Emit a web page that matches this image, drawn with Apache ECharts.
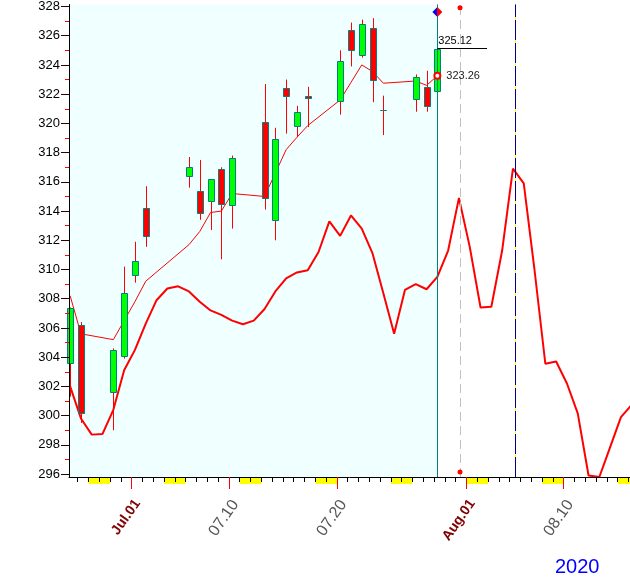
<!DOCTYPE html>
<html><head><meta charset="utf-8">
<script src="https://cdn.jsdelivr.net/npm/echarts@6/dist/echarts.min.js"></script>
<style>html,body{margin:0;padding:0;background:#fff}#c{width:630px;height:581px}</style>
</head><body><div id="c"></div>
<script>
// ---------- data ----------
const tradeDates = ['2020-06-25','2020-06-26','2020-06-29','2020-06-30','2020-07-01','2020-07-02',
  '2020-07-06','2020-07-07','2020-07-08','2020-07-09','2020-07-10',
  '2020-07-13','2020-07-14','2020-07-15','2020-07-16','2020-07-17',
  '2020-07-20','2020-07-21','2020-07-22','2020-07-23','2020-07-24',
  '2020-07-27','2020-07-28','2020-07-29'];
const openVals  = [303.6, 306.2, 301.6, 304.1, 309.65, 314.2, 316.4, 315.4, 314.7, 316.85, 314.4,
  320.1, 313.4, 322.4, 319.85, 321.9, 321.5, 326.4, 324.7, 326.5, 320.9, 321.7, 322.5, 322.2];
const closeVals = [307.4, 300.2, 304.5, 308.4, 310.55, 312.3, 317.0, 313.9, 316.2, 314.45, 317.6,
  314.9, 318.95, 321.9, 320.8, 321.75, 324.3, 325.0, 326.8, 323.0, 320.9, 323.2, 321.2, 325.12];
const lowVals   = [301.3, 299.5, 299.0, 303.9, 309.1, 311.55, 315.6, 313.4, 312.7, 310.7, 312.8,
  314.1, 312.0, 319.3, 319.05, 319.75, 320.6, 323.9, 324.5, 321.45, 319.2, 320.8, 320.8, 322.2];
const highVals  = [307.4, 306.4, 304.6, 310.2, 311.9, 315.7, 317.7, 317.5, 316.2, 317.0, 317.8,
  322.7, 319.7, 323.0, 321.2, 322.5, 325.0, 326.9, 327.1, 327.2, 321.9, 323.35, 323.6, 325.12];
const maVals    = [308.2, 305.6, 305.2, 306.5, 307.8, 309.2, 311.7, 312.6, 313.9, 314.0, 315.2,
  315.0, 316.6, 318.2, 319.05, 319.85, 321.6, 322.8, 324.0, 323.55, 322.75, 322.9, 322.6, 323.26];
// daily cycle line, one value per calendar day starting at cycleStartDate
const cycleStartDate = '2020-06-25';
const cycleVals = [302.0, 299.8, 298.7, 298.75, 300.4, 303.1, 304.5, 306.3, 307.9, 308.7,
  308.85, 308.5, 307.8, 307.2, 306.9, 306.5, 306.25, 306.5, 307.3, 308.5,
  309.4, 309.8, 309.95, 311.2, 313.3, 312.3, 313.7, 312.8, 311.1, 308.37,
  305.6, 308.6, 309.0, 308.65, 309.5, 311.3, 314.9, 311.55, 307.4, 307.45,
  311.3, 316.9, 315.9, 309.95, 303.55, 303.7, 302.2, 300.15, 295.9, 295.8,
  297.85, 299.9, 300.75];
const xLabelDates = ['2020-07-01','2020-07-10','2020-07-20','2020-08-01','2020-08-10'];
const xLabelTexts = ['Jul.01','07.10','07.20','Aug.01','08.10'];
const yLabelVals = [296,298,300,302,304,306,308,310,312,314,316,318,320,322,324,326,328];
const yMinorVals = [297,299,301,303,305,307,309,311,313,315,317,319,321,323,325,327];
const projectionTimes = ['2020-07-31T09:36', '2020-08-05T12:00'];
const lastCloseText = '325.12';
const lastMaText = '323.26';
const yearText = '2020';

// ---------- helpers ----------
const BASE = '2020-06-25';
function parseUTC(s){ return Date.parse(s.length === 10 ? s + 'T00:00Z' : s + 'Z'); }
function dayIndex(s){ return (parseUTC(s) - parseUTC(BASE)) / 864e5; }
const DATA_OFFSET = 0.3;          // bars sit slightly right of the day tick
const X_MIN = 0.194, X_MAX = 52.138;
const Y_MIN = 295.8, Y_MAX = 328.14;

const candleData = tradeDates.map((d, i) => [dayIndex(d) + DATA_OFFSET, openVals[i], closeVals[i], lowVals[i], highVals[i]]);
const maData = tradeDates.map((d, i) => [dayIndex(d) + DATA_OFFSET, maVals[i]]);
const cycleData = cycleVals.map((v, i) => [dayIndex(cycleStartDate) + i + DATA_OFFSET, v]);
const NOW_X = candleData[candleData.length - 1][0];
const lastClose = closeVals[closeVals.length - 1];
const lastMa = maVals[maVals.length - 1];
const proj = projectionTimes.map(dayIndex);

const dailyTicks = [];
for (let d = Math.ceil(X_MIN); d <= Math.floor(X_MAX); d++) dailyTicks.push(d);
const majorTicks = xLabelDates.map(dayIndex);
const weekendStarts = [];
for (let d = Math.floor(X_MIN) - 1; d <= X_MAX; d++) {
  const dt = new Date(parseUTC(BASE) + d * 864e5);
  if (dt.getUTCDay() === 6) weekendStarts.push([d]);
}

const FONT = 'Liberation Sans, Arial, sans-serif';
const CANDLE_HALF = 3;

const chart = echarts.init(document.getElementById('c'), null, {renderer: 'canvas'});
chart.setOption({
  animation: false,
  backgroundColor: '#fff',
  title: {text: yearText, left: 555, top: 557, padding: 0,
    textStyle: {color: '#0000ff', fontSize: 20, fontWeight: 'normal', fontFamily: FONT}},
  grid: [
    {left: 69, right: 0, top: 4, height: 473},
    {left: 69, right: 0, top: 478, height: 6}
  ],
  xAxis: [
    {gridIndex: 0, type: 'value', min: X_MIN, max: X_MAX, position: 'bottom', z: 10,
      axisLine: {lineStyle: {color: '#000', width: 1}},
      axisTick: {customValues: dailyTicks, length: 5, lineStyle: {color: '#000'}},
      axisLabel: {show: false}, splitLine: {show: false}},
    {gridIndex: 0, type: 'value', min: X_MIN, max: X_MAX, position: 'bottom', z: 11,
      axisLine: {show: false},
      axisTick: {customValues: majorTicks, length: 12, lineStyle: {color: '#ff0000'}},
      axisLabel: {customValues: majorTicks, rotate: 55, align: 'right', verticalAlign: 'top', margin: 20,
        fontFamily: FONT, fontSize: 14,
        formatter: function (v) {
          let i = 0, best = 1e9;
          majorTicks.forEach((t, k) => { if (Math.abs(t - v) < best) { best = Math.abs(t - v); i = k; } });
          const txt = xLabelTexts[i];
          return /^[A-Za-z]/.test(txt) ? '{m|' + txt + '}' : '{d|' + txt + '}';
        },
        rich: {
          m: {color: '#800000', fontWeight: 'bold', fontSize: 14, fontFamily: FONT},
          d: {color: '#555555', fontWeight: 'normal', fontSize: 16, fontFamily: FONT}
        }},
      splitLine: {show: false}},
    {gridIndex: 1, type: 'value', min: X_MIN, max: X_MAX, show: false}
  ],
  yAxis: [
    {gridIndex: 0, type: 'value', min: Y_MIN, max: Y_MAX, position: 'left', z: 10,
      axisLine: {show: true, lineStyle: {color: '#000'}},
      axisTick: {customValues: yLabelVals, length: 8, lineStyle: {color: '#300000'}},
      axisLabel: {customValues: yLabelVals, margin: 9, color: '#000', fontSize: 13, fontFamily: FONT},
      splitLine: {show: false}},
    {gridIndex: 0, type: 'value', min: Y_MIN, max: Y_MAX, position: 'left', z: 11,
      axisLine: {show: false},
      axisTick: {customValues: yMinorVals, length: 4, lineStyle: {color: '#ff0000'}},
      axisLabel: {show: false}, splitLine: {show: false}},
    {gridIndex: 1, type: 'value', min: 0, max: 1, show: false}
  ],
  series: [
    {
      name: 'weekend', type: 'custom', xAxisIndex: 2, yAxisIndex: 2, z: 1,
      data: weekendStarts,
      renderItem: function (params, api) {
        const d = api.value(0);
        const p0 = api.coord([d, 1]), p1 = api.coord([d + 2, 0]);
        const cs = params.coordSys;
        const x0 = Math.max(p0[0], cs.x), x1 = Math.min(p1[0], cs.x + cs.width);
        if (x1 <= x0) return null;
        return {type: 'rect', shape: {x: x0, y: p0[1], width: x1 - x0, height: p1[1] - p0[1]},
          style: {fill: '#ffff00'}};
      }
    },
    {
      name: 'cycle', type: 'line', xAxisIndex: 0, yAxisIndex: 0, z: 2,
      data: cycleData, showSymbol: false, symbol: 'none',
      lineStyle: {color: '#ff0000', width: 2},
      markArea: {silent: true, z: 0, itemStyle: {color: '#f0ffff'},
        data: [[{xAxis: X_MIN}, {xAxis: NOW_X}]]},
      markLine: {silent: true, symbol: 'none', label: {show: false},
        data: [
          {xAxis: NOW_X, lineStyle: {color: '#008080', width: 1, type: 'solid'}},
          {xAxis: proj[0], lineStyle: {color: '#c0c0c0', width: 1, type: [9, 5]}},
          {xAxis: proj[1], lineStyle: {color: '#ffff00', width: 1, type: 'solid'}},
          {xAxis: proj[1], lineStyle: {color: '#000080', width: 1, type: [20, 3]}}
        ]},
      markPoint: {silent: true, label: {show: false},
        data: [
          {coord: [proj[0], Y_MAX - 0.22], symbol: 'circle', symbolSize: 5, itemStyle: {color: '#ff0000'}},
          {coord: [proj[0], Y_MIN + 0.34], symbol: 'circle', symbolSize: 5, itemStyle: {color: '#ff0000'}},
          {coord: [NOW_X, Y_MAX - 0.52], symbol: 'diamond', symbolSize: [10, 10],
            itemStyle: {color: {type: 'linear', x: 0, y: 0, x2: 1, y2: 0, colorStops: [
              {offset: 0, color: '#0000ff'}, {offset: 0.5, color: '#0000ff'},
              {offset: 0.5, color: '#ff0000'}, {offset: 1, color: '#ff0000'}]}}}
        ]}
    },
    {
      name: 'ma', type: 'line', xAxisIndex: 0, yAxisIndex: 0, z: 2,
      data: maData, showSymbol: false, symbol: 'none',
      lineStyle: {color: '#ff0000', width: 1},
      markPoint: {silent: true,
        data: [{coord: [NOW_X, lastMa], symbol: 'emptyCircle', symbolSize: 6,
          itemStyle: {color: '#ff0000', borderColor: '#ff0000', borderWidth: 1},
          label: {show: true, position: 'right', distance: 5, formatter: lastMaText,
            color: '#222', fontSize: 11, fontFamily: FONT}}]}
    },
    {
      name: 'candles', type: 'custom', xAxisIndex: 0, yAxisIndex: 0, z: 3, clip: false,
      data: candleData, encode: {x: 0, y: [1, 2, 3, 4]},
      renderItem: function (params, api) {
        const x = api.value(0), o = api.value(1), c = api.value(2), l = api.value(3), h = api.value(4);
        const pH = api.coord([x, h]), pL = api.coord([x, l]);
        const pO = api.coord([x, o]), pC = api.coord([x, c]);
        const px = Math.round(pH[0]);
        const top = Math.round(Math.min(pO[1], pC[1])), bot = Math.round(Math.max(pO[1], pC[1]));
        return {type: 'group', children: [
          {type: 'line', shape: {x1: px + 0.5, y1: pH[1], x2: px + 0.5, y2: pL[1]},
            style: {stroke: '#ff0000', lineWidth: 1}},
          {type: 'rect', shape: {x: px - CANDLE_HALF + 0.5, y: top + 0.5, width: CANDLE_HALF * 2, height: bot - top},
            style: {fill: c >= o ? '#00ff00' : '#ff0000', stroke: '#008080', lineWidth: 1}}
        ]};
      },
      markLine: {silent: true, symbol: 'none',
        data: [[
          {coord: [NOW_X, lastClose], lineStyle: {color: '#000', width: 1, type: 'solid'},
            label: {show: true, position: 'insideStartTop', formatter: lastCloseText, color: '#000',
              fontSize: 11, fontFamily: FONT, distance: [1, 2]}},
          {coord: [NOW_X + 4.6, lastClose]}
        ]]}
    }
  ]
});
</script>
</body></html>
